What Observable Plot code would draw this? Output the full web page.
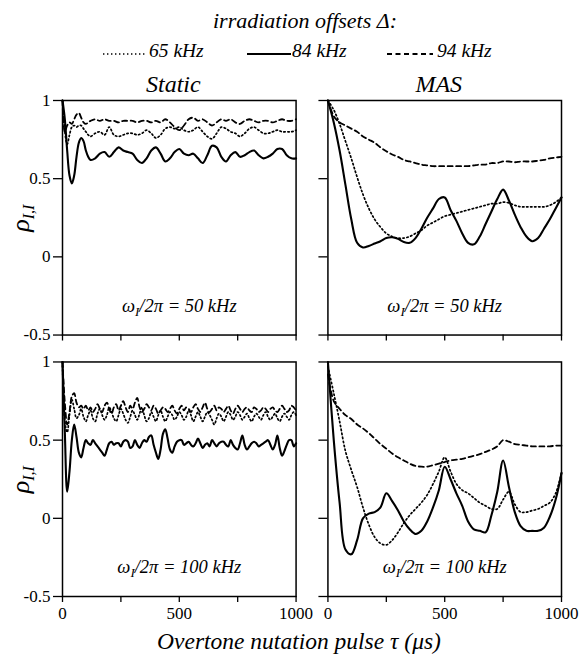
<!DOCTYPE html>
<html>
<head>
<meta charset="utf-8">
<script src="https://cdn.jsdelivr.net/npm/d3@7"></script>
<script src="https://cdn.jsdelivr.net/npm/@observablehq/plot@0.6"></script>
<style>
  body { margin: 0; background: #fff; }
  #wrap { position: relative; width: 581px; height: 656px; font-family: "Liberation Serif", "Times New Roman", serif; color: #000; overflow: hidden; }
  #head { position: relative; height: 58px; }
  .t { position: absolute; white-space: nowrap; font-style: italic; line-height: 1; }
  #title { left: 0; width: 581px; padding-left: 29px; box-sizing: border-box; text-align: center; font-size: 22px; top: 10px; }
  .legtxt { font-size: 19.5px; top: 41px; }
  .legsw { position: absolute; top: 49px; }
  #chart svg { display: block; }
  #foot { position: absolute; left: 0; top: 627px; width: 581px; padding-left: 17px; box-sizing: border-box; text-align: center; font-size: 23.5px; line-height: 28px; font-style: italic; white-space: nowrap; }
</style>
</head>
<body>
<div id="wrap">
  <div id="head"></div>
  <div id="chart"></div>
  <div id="foot"></div>
</div>
<script>
// ---------- labels ----------
const titleText = "irradiation offsets Δ:";
const offsets = ["65 kHz", "84 kHz", "94 kHz"];
const conditions = ["Static", "MAS"];
const fields = [50, 100];
const fieldLabels = ["ωI/2π = 50 kHz", "ωI/2π = 100 kHz"];
const yLabel = "ρ";
const yLabelSub = "I,I";
const xTitle = "Overtone nutation pulse τ (μs)";
const xTicks = [0, 250, 500, 750, 1000];
const xTickLabels = [0, 500, 1000];
const yTicks = [-0.5, 0, 0.5, 1];

// ---------- Static, ω1/2π = 50 kHz ----------
const tStatic50 = [0,10,20,30,40,50,60,70,80,90,100,110,120,140,160,180,200,220,240,260,280,300,320,340,360,380,400,420,440,460,480,500,520,540,560,580,600,620,640,660,680,700,720,740,760,780,800,820,840,860,880,900,920,940,960,980,1000];
const static50_65 = [1.0,0.80,0.72,0.78,0.83,0.84,0.83,0.84,0.84,0.82,0.80,0.78,0.77,0.79,0.80,0.78,0.83,0.78,0.77,0.78,0.79,0.79,0.78,0.79,0.81,0.79,0.76,0.78,0.82,0.83,0.82,0.83,0.81,0.80,0.81,0.83,0.80,0.77,0.755,0.79,0.83,0.82,0.80,0.79,0.77,0.79,0.82,0.83,0.81,0.79,0.79,0.80,0.81,0.80,0.80,0.80,0.81];
const static50_84 = [1.0,0.88,0.68,0.52,0.47,0.52,0.64,0.73,0.76,0.74,0.68,0.64,0.62,0.63,0.66,0.67,0.64,0.67,0.70,0.68,0.67,0.66,0.62,0.60,0.63,0.68,0.70,0.66,0.61,0.63,0.67,0.69,0.66,0.65,0.66,0.63,0.60,0.65,0.71,0.70,0.64,0.61,0.65,0.67,0.64,0.65,0.67,0.68,0.65,0.63,0.64,0.66,0.69,0.69,0.65,0.63,0.63];
const static50_94 = [1.0,0.80,0.84,0.86,0.85,0.88,0.91,0.92,0.89,0.86,0.85,0.86,0.87,0.88,0.87,0.88,0.87,0.87,0.86,0.87,0.87,0.87,0.86,0.87,0.87,0.86,0.87,0.86,0.88,0.86,0.83,0.81,0.84,0.88,0.89,0.87,0.88,0.86,0.84,0.86,0.88,0.87,0.88,0.86,0.85,0.87,0.88,0.87,0.86,0.87,0.87,0.86,0.87,0.88,0.87,0.87,0.88];

// ---------- Static, ω1/2π = 100 kHz (sampled every 10 μs) ----------
const tStatic100 = d3.range(0, 1001, 10);
const static100_65 = [1.0,0.62,0.55,0.66,0.76,0.70,0.64,0.66,0.70,0.65,0.62,0.66,0.69,0.64,0.62,0.67,0.70,0.66,0.63,0.66,0.71,0.68,0.64,0.62,0.66,0.70,0.67,0.63,0.61,0.65,0.69,0.66,0.63,0.67,0.71,0.66,0.62,0.64,0.68,0.65,0.62,0.66,0.69,0.65,0.62,0.65,0.68,0.66,0.63,0.65,0.68,0.66,0.63,0.65,0.69,0.66,0.62,0.65,0.68,0.65,0.62,0.65,0.68,0.66,0.63,0.60,0.64,0.67,0.65,0.62,0.65,0.68,0.66,0.63,0.65,0.68,0.66,0.63,0.65,0.67,0.64,0.62,0.65,0.67,0.65,0.63,0.66,0.68,0.65,0.63,0.65,0.67,0.64,0.62,0.65,0.67,0.65,0.63,0.66,0.68,0.66];
const static100_84 = [1.0,0.55,0.17,0.30,0.50,0.60,0.52,0.42,0.39,0.45,0.50,0.48,0.47,0.50,0.48,0.46,0.44,0.42,0.40,0.44,0.48,0.49,0.47,0.48,0.48,0.46,0.49,0.50,0.49,0.45,0.46,0.50,0.47,0.45,0.48,0.50,0.49,0.52,0.53,0.47,0.42,0.38,0.44,0.54,0.57,0.51,0.44,0.42,0.46,0.49,0.50,0.50,0.47,0.48,0.49,0.47,0.46,0.48,0.51,0.48,0.45,0.47,0.48,0.46,0.50,0.48,0.46,0.48,0.49,0.49,0.47,0.46,0.50,0.47,0.45,0.44,0.48,0.53,0.47,0.44,0.46,0.48,0.49,0.48,0.46,0.47,0.48,0.49,0.50,0.47,0.44,0.47,0.53,0.45,0.40,0.43,0.47,0.50,0.50,0.46,0.48];
const static100_94 = [1.0,0.74,0.60,0.68,0.78,0.80,0.74,0.71,0.72,0.70,0.72,0.69,0.71,0.68,0.70,0.73,0.70,0.68,0.72,0.74,0.70,0.67,0.71,0.73,0.69,0.72,0.75,0.71,0.68,0.72,0.70,0.74,0.77,0.71,0.68,0.70,0.73,0.71,0.69,0.72,0.70,0.67,0.69,0.71,0.70,0.68,0.70,0.72,0.69,0.67,0.70,0.72,0.69,0.71,0.70,0.68,0.71,0.73,0.70,0.68,0.71,0.74,0.70,0.68,0.70,0.72,0.69,0.71,0.70,0.68,0.70,0.72,0.69,0.67,0.70,0.72,0.70,0.68,0.70,0.71,0.69,0.68,0.71,0.70,0.68,0.69,0.71,0.70,0.68,0.70,0.71,0.69,0.68,0.70,0.72,0.70,0.68,0.69,0.72,0.71,0.69];

// ---------- MAS (sampled every 25 μs) ----------
const tMAS = d3.range(0, 1001, 25);
const mas50_65 = [1.00,0.94,0.85,0.74,0.63,0.51,0.40,0.31,0.24,0.19,0.15,0.13,0.12,0.12,0.13,0.15,0.17,0.20,0.22,0.24,0.26,0.27,0.28,0.29,0.30,0.31,0.32,0.33,0.34,0.34,0.35,0.345,0.33,0.32,0.32,0.32,0.32,0.32,0.33,0.35,0.38];
const mas50_84 = [1.00,0.86,0.68,0.46,0.24,0.09,0.06,0.07,0.085,0.10,0.12,0.125,0.115,0.095,0.09,0.12,0.18,0.25,0.31,0.37,0.38,0.30,0.23,0.15,0.09,0.08,0.13,0.21,0.29,0.37,0.43,0.36,0.27,0.19,0.13,0.10,0.12,0.18,0.24,0.31,0.38];
const mas50_94 = [1.00,0.90,0.86,0.84,0.82,0.80,0.77,0.75,0.73,0.70,0.675,0.655,0.64,0.62,0.61,0.60,0.59,0.585,0.58,0.58,0.58,0.58,0.58,0.58,0.58,0.585,0.59,0.59,0.60,0.60,0.61,0.61,0.605,0.61,0.61,0.61,0.615,0.62,0.63,0.635,0.64];
const mas100_65 = [0.97,0.80,0.62,0.43,0.31,0.20,0.07,-0.04,-0.12,-0.16,-0.17,-0.14,-0.09,-0.03,0.02,0.06,0.10,0.15,0.22,0.30,0.39,0.30,0.22,0.18,0.16,0.13,0.10,0.08,0.06,0.06,0.12,0.17,0.09,0.04,0.04,0.05,0.06,0.08,0.10,0.16,0.29];
const mas100_84 = [1.00,0.50,0.10,-0.20,-0.23,-0.14,0.00,0.03,0.04,0.07,0.16,0.11,0.05,-0.02,-0.07,-0.10,-0.08,-0.02,0.07,0.18,0.33,0.25,0.16,0.08,-0.02,-0.07,-0.08,-0.09,0.02,0.17,0.37,0.20,0.04,-0.05,-0.08,-0.08,-0.08,-0.06,0.01,0.12,0.29];
const mas100_94 = [0.92,0.75,0.70,0.66,0.635,0.60,0.575,0.545,0.51,0.475,0.445,0.415,0.39,0.37,0.35,0.335,0.33,0.33,0.34,0.35,0.36,0.37,0.375,0.38,0.39,0.40,0.41,0.425,0.44,0.46,0.50,0.49,0.475,0.47,0.465,0.46,0.46,0.46,0.46,0.465,0.465];

// ---------- build table ----------
const rows = [];
function add(cond, field, series, xs, ys) {
  xs.forEach((x, i) => rows.push({cond, field, series, x, y: ys[i]}));
}
add("Static", 50, "65 kHz", tStatic50, static50_65);
add("Static", 50, "84 kHz", tStatic50, static50_84);
add("Static", 50, "94 kHz", tStatic50, static50_94);
add("Static", 100, "65 kHz", tStatic100, static100_65);
add("Static", 100, "84 kHz", tStatic100, static100_84);
add("Static", 100, "94 kHz", tStatic100, static100_94);
add("MAS", 50, "65 kHz", tMAS, mas50_65);
add("MAS", 50, "84 kHz", tMAS, mas50_84);
add("MAS", 50, "94 kHz", tMAS, mas50_94);
add("MAS", 100, "65 kHz", tMAS, mas100_65);
add("MAS", 100, "84 kHz", tMAS, mas100_84);
add("MAS", 100, "94 kHz", tMAS, mas100_94);

const lineStyle = {
  "65 kHz": {strokeWidth: 1.7, strokeDasharray: "1.4,2.6"},
  "84 kHz": {strokeWidth: 2.1},
  "94 kHz": {strokeWidth: 1.8, strokeDasharray: "5,3.5"}
};

// ---------- header (title + legend) ----------
const head = document.getElementById("head");
const title = document.createElement("div");
title.className = "t"; title.id = "title"; title.textContent = titleText;
head.appendChild(title);
const legendPos = [
  {sw: 103, swW: 42, tx: 149},
  {sw: 247, swW: 44, tx: 292},
  {sw: 387, swW: 46, tx: 437}
];
offsets.forEach((s, i) => {
  const p = legendPos[i];
  const ns = "http://www.w3.org/2000/svg";
  const svg = document.createElementNS(ns, "svg");
  svg.setAttribute("class", "legsw");
  svg.setAttribute("width", p.swW); svg.setAttribute("height", 10);
  svg.style.left = p.sw + "px";
  const ln = document.createElementNS(ns, "line");
  ln.setAttribute("x1", 0); ln.setAttribute("x2", p.swW);
  ln.setAttribute("y1", 5); ln.setAttribute("y2", 5);
  ln.setAttribute("stroke", "black");
  ln.setAttribute("stroke-width", lineStyle[s].strokeWidth);
  if (lineStyle[s].strokeDasharray) ln.setAttribute("stroke-dasharray", lineStyle[s].strokeDasharray);
  svg.appendChild(ln);
  head.appendChild(svg);
  const t = document.createElement("div");
  t.className = "t legtxt"; t.textContent = s; t.style.left = p.tx + "px";
  head.appendChild(t);
});
document.getElementById("foot").textContent = xTitle;

// ---------- chart ----------
const titleRows = conditions.map(c => ({cond: c, field: fields[0], label: c}));
const rhoRows = fields.map(f => ({cond: conditions[0], field: f, label: yLabel}));
const annRows = [];
conditions.forEach(c => fields.forEach((f, i) => annRows.push({cond: c, field: f, label: fieldLabels[i]})));

const chart = Plot.plot({
  width: 581,
  height: 570,
  marginLeft: 62,
  marginRight: 20,
  marginTop: 42,
  marginBottom: 32,
  style: {fontFamily: "'Liberation Serif', 'Times New Roman', serif", fontSize: "17px", color: "black", background: "white"},
  fx: {domain: conditions, paddingInner: 0.12, paddingOuter: 0, round: false, axis: null},
  fy: {domain: fields, paddingInner: 0.103, paddingOuter: 0, round: false, axis: null},
  x: {domain: [0, 1000]},
  y: {domain: [-0.5, 1]},
  marks: [
    Plot.axisX({anchor: "bottom", facetAnchor: null, ticks: xTicks, tickFormat: () => "", tickSize: 6, strokeWidth: 1.3, label: null}),
    Plot.axisX({anchor: "bottom", facetAnchor: "bottom", ticks: xTickLabels, tickSize: 0, tickPadding: 10, tickFormat: d => String(d), label: null}),
    Plot.axisY({anchor: "left", facetAnchor: null, ticks: yTicks, tickFormat: () => "", tickSize: 9, strokeWidth: 1.3, label: null}),
    Plot.axisY({anchor: "left", facetAnchor: "left", ticks: yTicks, tickSize: 0, tickPadding: 12, tickFormat: d => String(d), label: null}),
    ...offsets.map(s => Plot.line(rows.filter(d => d.series === s), {
      x: "x", y: "y", fx: "cond", fy: "field", curve: "catmull-rom",
      stroke: "black", strokeLinecap: "round", strokeLinejoin: "round", ...lineStyle[s]
    })),
    Plot.frame({stroke: "black", strokeWidth: 1.5}),
    Plot.text(titleRows, {fx: "cond", fy: "field", text: "label", frameAnchor: "top", lineAnchor: "middle", dy: -16, dx: -6, fontSize: 24, fontStyle: "italic"}),
    Plot.text(rhoRows, {fx: "cond", fy: "field", text: "label", frameAnchor: "left", lineAnchor: "middle", dx: -42, dy: 14, rotate: -90, fontSize: 26, fontStyle: "italic"}),
    Plot.text(annRows, {fx: "cond", fy: "field", text: "label", frameAnchor: "bottom", lineAnchor: "middle", dy: -29, fontSize: 18.5, fontStyle: "italic"})
  ]
});
document.getElementById("chart").appendChild(chart);

// subscripts
d3.select(chart).selectAll("text").each(function () {
  const txt = this.textContent;
  const sel = d3.select(this);
  if (txt === yLabel) {
    sel.append("tspan").attr("font-size", "16px").attr("dy", "5").text(yLabelSub);
  } else if (fieldLabels.includes(txt)) {
    const rest = txt.slice(2);
    sel.text(null);
    sel.append("tspan").text(txt[0]);
    sel.append("tspan").attr("font-size", "13px").attr("dy", "4").text(txt[1]);
    sel.append("tspan").attr("dy", "-4").text(rest);
  }
});
</script>
</body>
</html>
